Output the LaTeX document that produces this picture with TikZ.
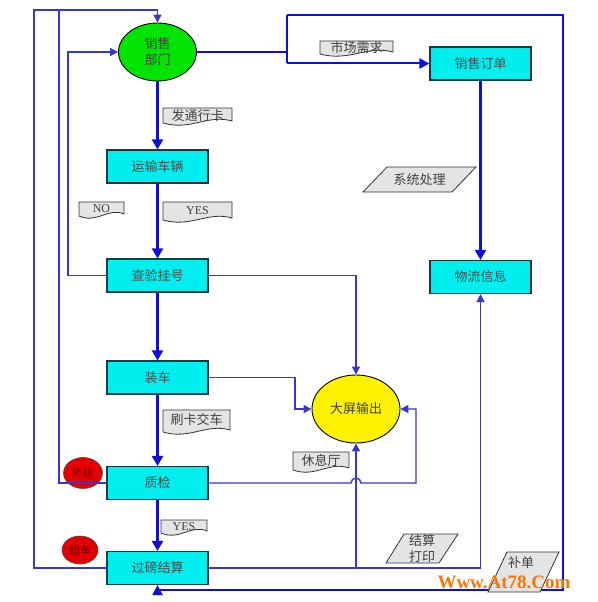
\documentclass[tikz,border=0pt]{standalone}
\usepackage{fontspec}
\setmainfont{Liberation Serif}
\newfontfamily\cjk{Noto Sans CJK SC}
\usetikzlibrary{arrows.meta,shapes.geometric}
\definecolor{lineblue}{RGB}{15,15,215}
\definecolor{thinblue}{RGB}{55,55,205}
\definecolor{boxcyan}{RGB}{0,238,238}
\definecolor{boxborder}{RGB}{30,55,60}
\definecolor{docgray}{RGB}{228,228,228}
\definecolor{salesgreen}{RGB}{0,228,0}
\definecolor{wmorange}{RGB}{255,115,0}
\newcommand\docnode[6]{%
  \path[docshape] (#2,#3) -- (#4,#3) -- (#4,{#5-5})
    .. controls ({#4-0.35*(#4-#2)},{#5-12}) and ({#2+0.4*(#4-#2)},{#5+5}) .. (#2,{#5-3}) -- cycle;
  \node[doctext] (#1) at ({(#2+#4)/2},{#3+0.4*(#5-#3)}) {#6};}
\begin{document}
\begin{tikzpicture}[x=1pt,y=-1pt,
  box/.style={draw=boxborder, line width=1.1pt, fill=boxcyan, minimum width=101pt,
    minimum height=33pt, inner sep=0pt, font=\cjk\fontsize{13}{14}\selectfont, text=black!70},
  oval/.style={ellipse, draw=black, line width=0.9pt, inner sep=0pt, align=center,
    font=\cjk\fontsize{13}{16}\selectfont, text=black!75},
  redoval/.style={ellipse, draw=black!70, fill=red!90!black, line width=0.6pt, inner sep=0pt,
    font=\cjk\fontsize{11}{13}\selectfont, text=red!50!black, minimum width=37pt, minimum height=30pt},
  mainarrow/.style={draw=lineblue, line width=2.4pt, -{Triangle[length=10pt,width=11pt]}},
  medline/.style={draw=lineblue, line width=2pt},
  medarrow/.style={medline, -{Triangle[length=10pt,width=10pt]}},
  thinline/.style={draw=thinblue, line width=1.4pt},
  thinarrow/.style={thinline, -{Triangle[length=8pt,width=8pt]}},
  docshape/.style={draw=black!80, fill=docgray, line width=0.8pt},
  doctext/.style={inner sep=0pt, font=\cjk\fontsize{13}{14}\selectfont, text=black!75},
  paratext/.style={inner sep=0pt, align=center, font=\cjk\fontsize{13}{16}\selectfont, text=black!75}]
\useasboundingbox (0,0) rectangle (597,602);
\fill[white] (0,0) rectangle (597,602);

% main nodes
\node[oval, fill=salesgreen, minimum width=78pt, minimum height=58pt] (sales) at (157.5,52) {销售\\部门};
\node[box] (order) at (480.5,63.5) {销售订单};
\node[box] (transport) at (157.5,166.5) {运输车辆};
\node[box] (check) at (157.5,275.5) {查验挂号};
\node[box] (load) at (157.5,377.5) {装车};
\node[box] (qc) at (157.5,483) {质检};
\node[box] (weigh) at (157.5,568) {过磅结算};
\node[box] (logi) at (480.5,277) {物流信息};
\node[oval, fill=yellow, minimum width=88pt, minimum height=68pt] (screen) at (356,409) {大屏输出};
\node[redoval, minimum width=39pt, minimum height=31pt] (down) at (83,473) {降级};
\node[redoval, minimum width=36pt, minimum height=28pt] (over) at (80,550) {超单};

% junction coordinates
\coordinate (c1) at (34,10);
\coordinate (c2) at (59,10);
\coordinate (c3) at (68,52);
\coordinate (j1) at (287,52);
\coordinate (j2) at (287,63.5);
\coordinate (j3) at (287,15);
\coordinate (c5) at (563,590);
\coordinate (c6) at (356,568);
\coordinate (c7) at (295,409);

% main vertical flow
\draw[mainarrow] (sales.south) -- (transport.north);
\draw[mainarrow] (transport.south) -- (check.north);
\draw[mainarrow] (check.south) -- (load.north);
\draw[mainarrow] (load.south) -- (qc.north);
\draw[mainarrow] (qc.south) -- (weigh.north);
\draw[mainarrow] (order.south) -- (logi.north);

% feedback loops on the left
\draw[thinarrow] (weigh.west) -| (c1) -| (sales.north);
\draw[thinline] (qc.west) -| (c2);
\draw[thinarrow] (check.west) -| (c3) -- (sales.west);

% sales to order and outer right loop
\draw[medline] (sales.east) -- (j1);
\draw[medline] (j3) -- (j2);
\draw[medarrow] (j2) -- (order.west);
\draw[medarrow] (j3) -| (c5) -| (weigh.south);

% to logistics and screen
\draw[thinarrow] (weigh.east) -| (logi.south);
\draw[thinarrow] (c6) -- (screen.south);
\draw[thinarrow] (check.east) -| (screen.north);
\draw[thinarrow] (load.east) -| (c7) -- (screen.west);
\draw[thinarrow] (qc.east) -- (351,483) arc (180:360:5) -- (416,483) -- (416,409) -- (screen.east);

% document labels
\docnode{lcard}{163}{108}{232}{126}{发通行卡}
\docnode{lmarket}{320}{41}{393}{57}{市场需求}
\docnode{lno}{79}{202}{124}{219}{\rmfamily\fontsize{12}{13}\selectfont NO}
\docnode{lyes}{163}{202}{232}{223}{\rmfamily\fontsize{12}{13}\selectfont YES}
\docnode{lswipe}{163}{410}{230}{435}{刷卡交车}
\docnode{lyes2}{161}{520}{207}{536}{\rmfamily\fontsize{12}{13}\selectfont YES}
\docnode{lrest}{293}{452}{349}{473}{休息厅}

% parallelogram labels
\path[docshape] (387,167) -- (476,167) -- (452,192) -- (363,192) -- cycle;
\node[paratext] (lsys) at (419.5,179.5) {系统处理};
\path[docshape] (404,534) -- (458,534) -- (439,563) -- (386,563) -- cycle;
\node[paratext] (lprint) at (422,548.5) {结算\\打印};
\path[docshape] (507,552) -- (559,552) -- (540,592) -- (488,592) -- cycle;
\node[paratext] (lsupp) at (521,563) {补单};

% watermark
\node[inner sep=0pt, anchor=base, text=wmorange, font=\bfseries\fontsize{19}{21}\selectfont] (wm) at (504,588) {Www.At78.Com};
\end{tikzpicture}
\end{document}
